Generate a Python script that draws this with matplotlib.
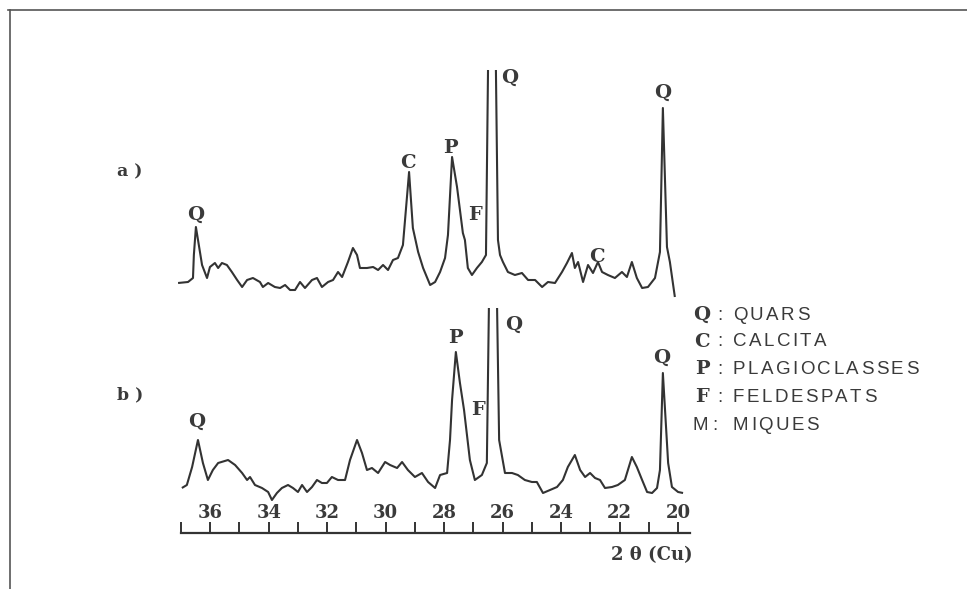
import matplotlib
matplotlib.use("Agg")
import matplotlib.pyplot as plt
from matplotlib.lines import Line2D
from matplotlib.ticker import FixedFormatter, FixedLocator
import numpy as np

# ---------------- data ----------------
# trace a): 2-theta (Cu) positions and relative intensities
theta_a = [37.10, 36.76, 36.59, 36.56, 36.49, 36.28, 36.11, 36.01, 35.84, 35.73,
           35.60, 35.43, 35.26, 35.08, 34.91, 34.74, 34.54, 34.30, 34.20, 34.02,
           33.79, 33.61, 33.44, 33.27, 33.10, 32.93, 32.76, 32.52, 32.35, 32.18,
           31.97, 31.80, 31.63, 31.49, 31.29, 31.12, 30.98, 30.88, 30.64, 30.43,
           30.26, 30.09, 29.92, 29.75, 29.58, 29.41, 29.20, 29.07, 28.89, 28.72,
           28.48, 28.31, 28.14, 27.97, 27.87, 27.73, 27.56, 27.46, 27.36, 27.29,
           27.19, 27.05, 26.88, 26.71, 26.57, 26.50, 26.23, 26.16, 26.09, 25.99,
           25.82, 25.58, 25.34, 25.13, 24.89, 24.65, 24.45, 24.21, 23.97, 23.80,
           23.63, 23.53, 23.42, 23.25, 23.08, 22.91, 22.74, 22.60, 22.40, 22.16,
           21.92, 21.75, 21.58, 21.41, 21.23, 21.03, 20.79, 20.62, 20.52, 20.38,
           20.28, 20.11]
int_a = [17, 18, 22, 45, 73, 35, 22, 33, 37, 32,
         37, 35, 28, 20, 13, 20, 22, 18, 13, 17,
         13, 12, 15, 10, 10, 18, 12, 20, 22, 13,
         18, 20, 28, 23, 38, 52, 45, 32, 32, 33,
         30, 35, 30, 40, 42, 55, 128, 72, 48, 32,
         15, 18, 28, 42, 65, 143, 113, 90, 67, 60,
         32, 25, 32, 38, 45, 230, 230, 60, 45, 38,
         28, 25, 27, 20, 20, 13, 18, 17, 28, 37,
         47, 32, 38, 18, 35, 27, 38, 28, 25, 22,
         28, 23, 38, 22, 12, 13, 22, 48, 192, 53,
         38, 3]

# trace b)
theta_b = [36.97, 36.80, 36.62, 36.42, 36.25, 36.08, 35.91, 35.73, 35.39, 35.15,
           34.91, 34.74, 34.64, 34.47, 34.23, 34.02, 33.89, 33.72, 33.55, 33.34,
           33.17, 33.00, 32.86, 32.69, 32.52, 32.35, 32.18, 32.01, 31.84, 31.63,
           31.39, 31.22, 30.98, 30.81, 30.64, 30.47, 30.26, 30.02, 29.85, 29.61,
           29.44, 29.24, 29.00, 28.76, 28.55, 28.31, 28.14, 27.90, 27.80, 27.73,
           27.60, 27.46, 27.32, 27.22, 27.12, 26.95, 26.71, 26.54, 26.47, 26.19,
           26.12, 25.92, 25.68, 25.48, 25.24, 25.00, 24.83, 24.62, 24.38, 24.14,
           23.94, 23.77, 23.53, 23.35, 23.18, 23.01, 22.84, 22.67, 22.50, 22.26,
           22.06, 21.82, 21.58, 21.41, 21.23, 21.06, 20.89, 20.72, 20.62, 20.52,
           20.34, 20.21, 20.00, 19.83]
int_b = [12, 15, 33, 60, 37, 20, 30, 37, 40, 35,
         27, 20, 23, 15, 12, 8, 0, 7, 12, 15,
         12, 8, 15, 8, 13, 20, 17, 17, 23, 20,
         20, 40, 60, 47, 30, 32, 27, 38, 35, 32,
         38, 30, 23, 27, 18, 12, 25, 27, 60, 100,
         148, 117, 90, 65, 40, 20, 25, 37, 192, 192,
         60, 27, 27, 25, 20, 18, 18, 7, 10, 13,
         20, 33, 45, 30, 23, 27, 22, 20, 12, 13,
         15, 20, 43, 33, 20, 8, 7, 12, 30, 127,
         37, 13, 8, 7]

clip_a = 230          # off-scale quartz peak (recorder clipped)
clip_b = 192
offset_a = 200        # vertical offset of trace a)

# peak labels: (letter, 2theta, intensity position)
labels_a = [("Q", 36.49, 85), ("C", 29.24, 137), ("P", 27.77, 152), ("F", 26.94, 85),
            ("Q", 25.75, 222), ("C", 22.77, 43), ("Q", 20.52, 207)]
labels_b = [("Q", 36.45, 78), ("P", 27.63, 162), ("F", 26.84, 90),
            ("Q", 25.61, 175), ("Q", 20.55, 142)]

legend_keys = ["Q", "C", "P", "F", "M"]
legend_names = ["QUARS", "CALCITA", "PLAGIOCLASSES", "FELDESPATS", "MIQUES"]

tick_major = [36, 34, 32, 30, 28, 26, 24, 22, 20]
tick_minor = [37, 35, 33, 31, 29, 27, 25, 23, 21]

# ---------------- drawing ----------------
W, H = 967, 589
fig = plt.figure(figsize=(W / 100, H / 100), dpi=100)
fig.patch.set_facecolor("white")
ax = fig.add_axes([0, 0, 1, 1])
ax.set_facecolor("none")

ink = "#333333"
txt = "#3a3a3a"
serif = ["DejaVu Serif"]
sans = ["Liberation Sans", "DejaVu Sans"]

# axis limits chosen so that the 2-theta scale sits where it does on the page
ax.set_xlim(37 + 181 / 29.24, 37 - (W - 181) / 29.24)
ax.set_ylim(500 - H, 500)


def draw_trace(theta, inten, clip, off):
    theta = np.asarray(theta)
    inten = np.asarray(inten, dtype=float)
    idx = np.where(inten >= clip)[0]
    i0, i1 = idx[0], idx[-1]
    ax.plot(theta[:i0 + 1], inten[:i0 + 1] + off, color=ink, lw=1.5,
            solid_joinstyle="round", solid_capstyle="butt")
    ax.plot(theta[i1:], inten[i1:] + off, color=ink, lw=1.5,
            solid_joinstyle="round", solid_capstyle="butt")


draw_trace(theta_a, int_a, clip_a, offset_a)
draw_trace(theta_b, int_b, clip_b, 0)

for s, t, y in labels_a:
    ax.text(t, y + offset_a, s, family=serif, fontweight="bold", fontsize=14,
            color=txt, ha="center", va="center")
for s, t, y in labels_b:
    ax.text(t, y, s, family=serif, fontweight="bold", fontsize=14,
            color=txt, ha="center", va="center")

# 2-theta axis drawn with the axes' own bottom spine
for sp in ["top", "right", "left"]:
    ax.spines[sp].set_visible(False)
ax.spines["bottom"].set_position(("data", 500 - 533))
ax.spines["bottom"].set_bounds(19.6, 37)
ax.spines["bottom"].set_color(ink)
ax.spines["bottom"].set_linewidth(1.6)
ax.yaxis.set_visible(False)
ax.xaxis.set_major_locator(FixedLocator(tick_major))
ax.xaxis.set_minor_locator(FixedLocator(tick_minor))
ax.xaxis.set_major_formatter(FixedFormatter([str(v) for v in tick_major]))
ax.tick_params(axis="x", which="both", direction="in", length=8, width=1.4,
               color=ink)
ax.tick_params(axis="x", which="major", pad=-21, labelsize=13, labelcolor=txt)
for lab in ax.get_xticklabels():
    lab.set_family(serif)
    lab.set_fontweight("bold")

fig.text(693 / W, 1 - 555 / H, "2 θ (Cu)", family=serif, fontweight="bold",
         fontsize=13, color=txt, ha="right", va="center")

# trace names
fig.text(117 / W, 1 - 172 / H, "a )", family=serif, fontweight="bold",
         fontsize=12.5, color=txt, ha="left", va="center")
fig.text(117 / W, 1 - 395 / H, "b )", family=serif, fontweight="bold",
         fontsize=12.5, color=txt, ha="left", va="center")

# legend (letter-spaced sans text)
renderer = fig.canvas.get_renderer()


def spaced_text(x_px, y_px, s, track_px, **kw):
    x = x_px
    for ch in s:
        t = fig.text(x / W, 1 - y_px / H, ch, ha="left", va="center", **kw)
        bb = t.get_window_extent(renderer=renderer)
        x += bb.width + track_px


ys = [315, 342, 369, 397, 425]
for k, n, y in zip(legend_keys, legend_names, ys):
    if k == "M":
        fig.text(692 / W, 1 - y / H, k, family=sans, fontsize=13.5, color=txt,
                 ha="left", va="center")
        fig.text(715 / W, 1 - y / H, ":", family=sans, fontsize=13.5, color=txt,
                 ha="center", va="center")
    else:
        fig.text(702 / W, 1 - y / H, k, family=serif, fontweight="bold",
                 fontsize=14, color=txt, ha="center", va="center")
        fig.text(720 / W, 1 - y / H, ":", family=sans, fontsize=13.5, color=txt,
                 ha="center", va="center")
    spaced_text(733, y, n, 2.4, family=sans, fontsize=13.5, color=txt)

# frame lines of the scanned page
fig.add_artist(Line2D([8 / W, 1], [1 - 10 / H, 1 - 10 / H], color="#555555",
                      lw=1.2, transform=fig.transFigure))
fig.add_artist(Line2D([10 / W, 10 / W], [1 - 10 / H, 0], color="#555555",
                      lw=1.2, transform=fig.transFigure))

fig.savefig("out.png", dpi=100, facecolor="white")
